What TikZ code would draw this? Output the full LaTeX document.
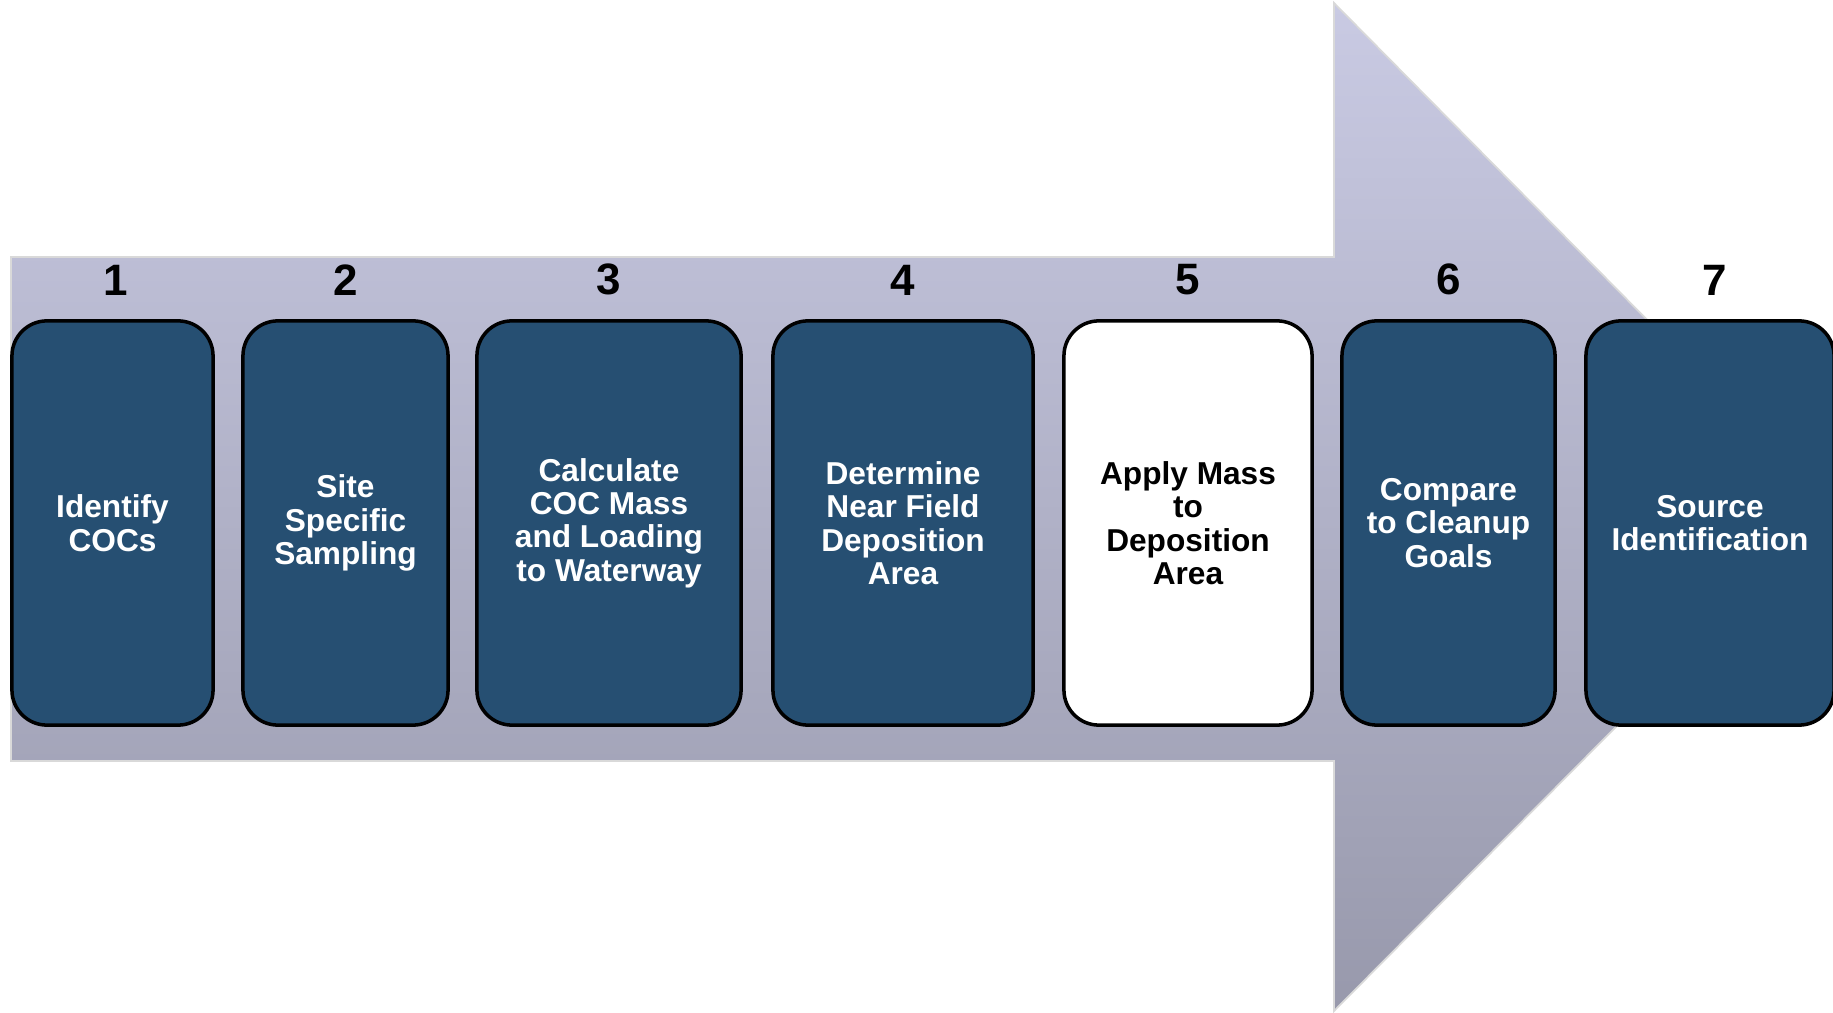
\documentclass[tikz,border=0pt]{standalone}
\usepackage{fontspec}
\setmainfont{Liberation Sans}
\usepackage{xcolor}
\usepackage{tikz}
\usetikzlibrary{positioning,calc}

\definecolor{stepblue}{RGB}{38,79,114}
\definecolor{arrowtop}{RGB}{201,202,227}
\definecolor{arrowbot}{RGB}{152,153,172}

\tikzset{
  stepbox/.style={draw=black, line width=1pt, rounded corners=0.35cm, fill=stepblue,
    text=white, minimum height=4.04cm, align=center, inner sep=0pt,
    font=\fontsize{9}{9.5}\selectfont\bfseries},
  num/.style={inner sep=0pt, font=\fontsize{12.5}{14}\selectfont\bfseries}
}

\begin{document}
\begin{tikzpicture}[x=0.01cm, y=-0.01cm]
    \useasboundingbox (0,0) rectangle (1833,1013);

    % Big process arrow
    \shade[top color=arrowtop, bottom color=arrowbot, draw=white!70!gray, line width=0.5pt]
        (11,257) -- (1334,257) -- (1334,3) -- (1833,508) -- (1334,1011) -- (1334,761) -- (11,761) -- cycle;

    % Steps
    \node[stepbox, minimum width=2.01cm] (box1) at (112.5,523) {Identify\\COCs};
    \node[stepbox, minimum width=2.05cm] (box2) at (345.5,523) {Site\\Specific\\Sampling};
    \node[stepbox, minimum width=2.64cm] (box3) at (609,523) {Calculate\\COC Mass\\and Loading\\to Waterway};
    \node[stepbox, minimum width=2.60cm] (box4) at (903,523) {Determine\\Near Field\\Deposition\\Area};
    \node[stepbox, minimum width=2.48cm, fill=white, text=black] (box5) at (1188,523) {Apply Mass\\to\\Deposition\\Area};
    \node[stepbox, minimum width=2.13cm] (box6) at (1448.5,523) {Compare\\to Cleanup\\Goals};
    \node[stepbox, minimum width=2.48cm] (box7) at (1710,523) {Source\\Identification};

    % Step numbers
    \node[num, above=0.23cm of box1.north, xshift=0.03cm] (num1) {1};
    \node[num, above=0.23cm of box2.north] (num2) {2};
    \node[num, above=0.23cm of box3.north] (num3) {3};
    \node[num, above=0.23cm of box4.north] (num4) {4};
    \node[num, above=0.23cm of box5.north] (num5) {5};
    \node[num, above=0.23cm of box6.north] (num6) {6};
    \node[num, above=0.23cm of box7.north, xshift=0.05cm] (num7) {7};
\end{tikzpicture}
\end{document}
